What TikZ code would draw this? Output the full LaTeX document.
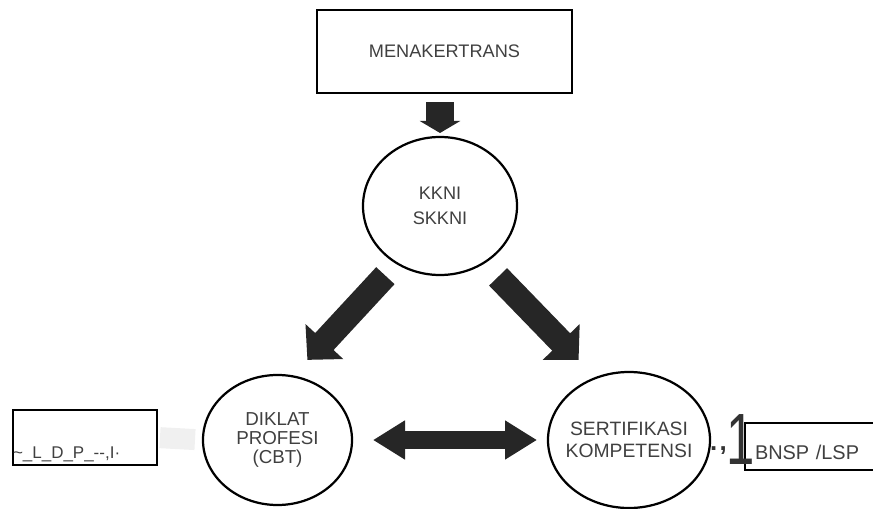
\documentclass[tikz,border=0pt]{standalone}
\usepackage{fontspec}
\setmainfont{Liberation Sans}
\usetikzlibrary{shapes.geometric,arrows.meta}
\begin{document}
\begin{tikzpicture}[x=0.03cm,y=-0.03cm,
  box/.style={draw,line width=1.6pt,inner sep=0pt,outer sep=0pt,text=black!75},
  circ/.style={ellipse,draw,line width=1.9pt,inner sep=-10pt,outer sep=0pt,align=center,text=black!75},
  downarrow/.style={line width=0.84cm,black!85,-{Triangle[length=0.36cm,width=1.2cm]}},
  slantarrow/.style={line width=0.75cm,black!85,-{Triangle[length=0.75cm,width=1.5cm]}},
  dblarrow/.style={line width=0.54cm,black!85,{Triangle[length=0.96cm,width=1.11cm]}-{Triangle[length=0.96cm,width=1.11cm]}}]
\useasboundingbox (0,0) rectangle (873,509);

\node[box,minimum width=7.65cm,minimum height=2.49cm,font=\fontsize{15.5}{18}\selectfont] (menak) at (444.5,51.5) {MENAKERTRANS};

\node[circ,minimum width=4.62cm,minimum height=4.14cm,font=\fontsize{15.5}{21}\selectfont] (kkni) at (440,206) {KKNI\\SKKNI};
\node[circ,minimum width=4.47cm,minimum height=3.9cm,font=\fontsize{16}{16.5}\selectfont] (diklat) at (277.5,440) {DIKLAT\\PROFESI\\(CBT)};
\node[circ,minimum width=4.86cm,minimum height=4.08cm,font=\fontsize{16.5}{18.7}\selectfont] (sertif) at (629,440) {SERTIFIKASI\\KOMPETENSI};

\node[box,anchor=north west,text width=4.32cm,align=left,text height=1.44cm,text depth=0.21cm,font=\fontsize{14.5}{14.5}\selectfont] (lbox) at (13,410) {\textasciitilde\_L\_D\_P\_-{}-,I·};
\node[box,anchor=north west,inner xsep=0.3cm,text width=3.6cm,align=left,text height=1.08cm,text depth=0.33cm,font=\fontsize{17}{17}\selectfont] (rbox) at (745,423) {BNSP /LSP};
\node[anchor=base west,inner sep=0pt,text=black!80] (mark) at (710,450) {{\fontsize{22}{22}\selectfont\bfseries .\kern2pt,}\raisebox{-12.75pt}{\scalebox{0.7}[1]{\fontsize{62}{62}\selectfont 1}}};

\draw[downarrow,shorten <=0.27cm,shorten >=0.12cm] (kkni.north |- menak.south) -- (kkni.north);
\draw[slantarrow,shorten <=0.51cm,shorten >=0.67cm] (kkni.233.6) -- (diklat.77.4);
\draw[slantarrow,shorten <=0.6cm,shorten >=0.75cm] (kkni.308.9) -- (sertif.118.65);
\draw[dblarrow,shorten <=0.63cm,shorten >=0.33cm] (diklat.east) -- (sertif.west);
\draw[line width=0.63cm,black!6,shorten <=0.09cm,shorten >=0.24cm] (lbox.east) -- (diklat.west);
\end{tikzpicture}
\end{document}
